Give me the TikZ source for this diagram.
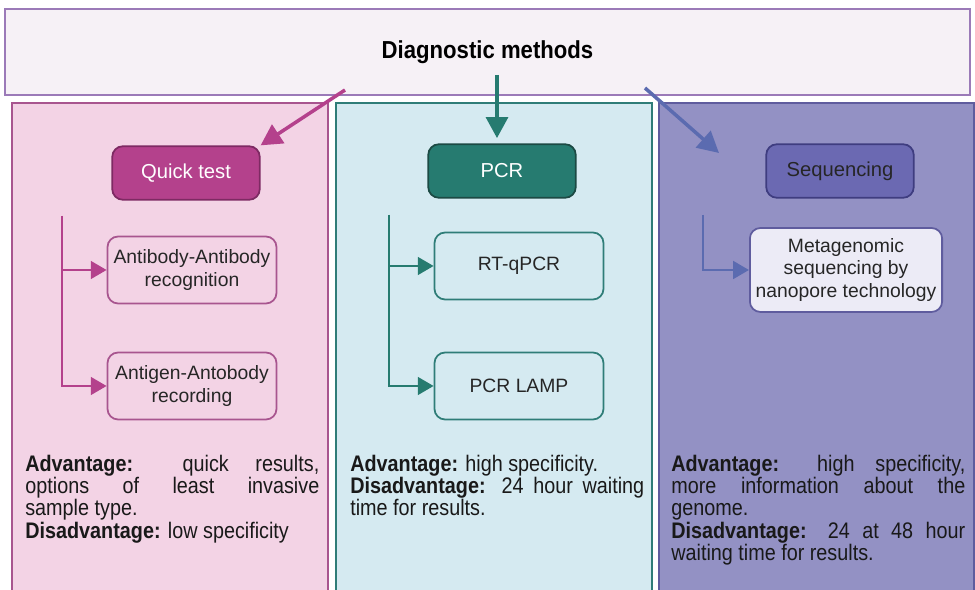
\documentclass[tikz,border=0pt]{standalone}
\usepackage{fontspec}
\setmainfont{Liberation Sans}
\newfontfamily\condfont[FakeStretch=0.88]{Liberation Sans}
\newfontfamily\headfont[FakeStretch=0.9]{Liberation Sans}
\usetikzlibrary{arrows.meta}

\definecolor{titlefill}{HTML}{F6F1F6}
\definecolor{titleline}{HTML}{9B7AB8}
\definecolor{pinkfill}{HTML}{F3D3E5}
\definecolor{pinkline}{HTML}{A8558F}
\definecolor{quickfill}{HTML}{B4418C}
\definecolor{quickline}{HTML}{7E2A63}
\definecolor{bluefill}{HTML}{D5EAF1}
\definecolor{tealline}{HTML}{2F7D78}
\definecolor{pcrfill}{HTML}{267B70}
\definecolor{pcrline}{HTML}{1C4A44}
\definecolor{violetfill}{HTML}{9391C4}
\definecolor{violetline}{HTML}{5F5C9E}
\definecolor{seqfill}{HTML}{6B69B2}
\definecolor{seqline}{HTML}{3F3D80}
\definecolor{metafill}{HTML}{ECEBF6}
\definecolor{seqarrow}{HTML}{5B6BB0}

\begin{document}
\begin{tikzpicture}[x=0.02cm,y=-0.02cm,
    panel/.style={line width=1.1pt},
    headbox/.style={draw,rounded corners=6pt,line width=1pt,minimum width=2.95cm,
        minimum height=1.07cm,font=\fontsize{11.5}{13}\selectfont},
    subbox/.style={draw,rounded corners=6pt,line width=1pt,minimum width=3.38cm,
        minimum height=1.34cm,align=center,text=black!85,font=\fontsize{11}{13}\selectfont},
    link/.style={line width=2pt,-{Triangle[length=12pt,width=12.5pt]}},
    branch/.style={line width=1.6pt,-{Triangle[length=9pt,width=10pt]}},
    note/.style={anchor=north west,text width=5.88cm,align=justify,inner sep=0pt,
        text=black!90,font=\condfont\fontsize{12.8}{12.6}\selectfont}]
    %initialisation
    \clip (0,0) rectangle (975,590);
    \fill[white] (0,0) rectangle (975,590);
    %panels
    \draw[panel,draw=pinkline,fill=pinkfill] (12,103) rectangle (328,600);
    \draw[panel,draw=tealline,fill=bluefill] (336,103) rectangle (652,600);
    \draw[panel,draw=violetline,fill=violetfill] (659,103) rectangle (974,600);
    %definitions
    \node[draw=titleline,fill=titlefill,line width=1pt,minimum width=19.3cm,minimum height=1.72cm,
        font=\headfont\bfseries\fontsize{14}{16}\selectfont] (title) at (487.5,52) {Diagnostic methods};
    \node[headbox,draw=quickline,fill=quickfill,text=white] (quick) at (186,173) {Quick test};
    \node[headbox,draw=pcrline,fill=pcrfill,text=white] (pcr) at (502,171) {PCR};
    \node[headbox,draw=seqline,fill=seqfill,text=black!85] (seq) at (840,171) {Sequencing};
    \node[subbox,draw=pinkline] (ab1) at (192,270) {Antibody-Antibody\\recognition};
    \node[subbox,draw=pinkline] (ab2) at (192,386) {Antigen-Antobody\\recording};
    \node[subbox,draw=tealline] (rt) at (519,266) {RT-qPCR};
    \node[subbox,draw=tealline] (lamp) at (519,386) {PCR LAMP};
    \node[subbox,draw=violetline,fill=metafill,minimum width=3.84cm,minimum height=1.68cm] (meta)
        at (846,270) {Metagenomic\\sequencing by\\nanopore technology};
    \coordinate (qs) at (345,90);
    \coordinate (ps) at (497,75);
    \coordinate (ss) at (645,88);
    \coordinate (se) at (719,153);
    \coordinate (qt) at (62,216);
    \coordinate (pt) at (389,215);
    \coordinate (st) at (703,215);
    %drawing
    \draw[link,quickfill] (qs) -- (quick.north east);
    \draw[link,pcrfill,shorten >=3pt] (ps) -- (ps |- pcr.north);
    \draw[link,seqarrow] (ss) -- (se);
    \draw[branch,quickfill] (qt) |- (ab1);
    \draw[branch,quickfill] (qt) |- (ab2);
    \draw[branch,pcrfill] (pt) |- (rt);
    \draw[branch,pcrfill] (pt) |- (lamp);
    \draw[branch,seqarrow] (st) |- (meta);
    %label
    \node[note] (qnote) at (25,455) {\textbf{Advantage:} quick results,\linebreak
        options of least invasive\linebreak sample type.\\
        \textbf{Disadvantage:} low specificity};
    \node[note] (pnote) at (350,455) {\textbf{Advantage:} high specificity.\\
        \textbf{Disadvantage:} 24 hour waiting\linebreak time for results.};
    \node[note] (snote) at (671,455) {\textbf{Advantage:} high specificity,\linebreak
        more information about the\linebreak genome.\\
        \textbf{Disadvantage:} 24 at 48 hour\linebreak waiting time for results.};
\end{tikzpicture}
\end{document}
